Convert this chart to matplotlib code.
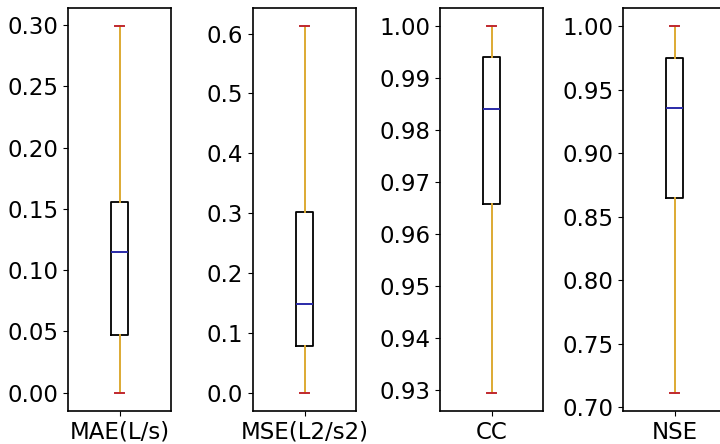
import matplotlib
matplotlib.use("Agg")
import matplotlib.pyplot as plt

# five-number summaries (min, q1, median, q3, max)
labels = ["MAE(L/s)", "MSE(L2/s2)", "CC", "NSE"]
mins = [0.0, 0.0, 0.9295, 0.7113]
q1s = [0.0467, 0.078, 0.9658, 0.8645]
medians = [0.1148, 0.148, 0.9840, 0.9355]
q3s = [0.1555, 0.302, 0.9941, 0.9750]
maxs = [0.299, 0.612, 1.0, 1.0]

plt.rcParams['font.size'] = 16.5

fig = plt.figure(figsize=(7.2, 4.44), dpi=100)
W, H = 720, 444
lefts = [68, 253, 440, 623]
width = 103
top, bottom = 8, 411

for i, lab in enumerate(labels):
    ax = fig.add_axes([lefts[i] / W, 1 - bottom / H, width / W, (bottom - top) / H])
    stats = [dict(med=medians[i], q1=q1s[i], q3=q3s[i],
                  whislo=mins[i], whishi=maxs[i], fliers=[], label=lab)]
    ax.bxp(stats, showfliers=False, widths=0.165,
           boxprops=dict(color='black', linewidth=1.3),
           whiskerprops=dict(color='#DDAA33', linewidth=1.4),
           capprops=dict(color='#C0282E', linewidth=1.4),
           medianprops=dict(color='#2a2aa8', linewidth=1.4))
    for sp in ax.spines.values():
        sp.set_linewidth(1.2)

fig.savefig("out.png", dpi=100)
